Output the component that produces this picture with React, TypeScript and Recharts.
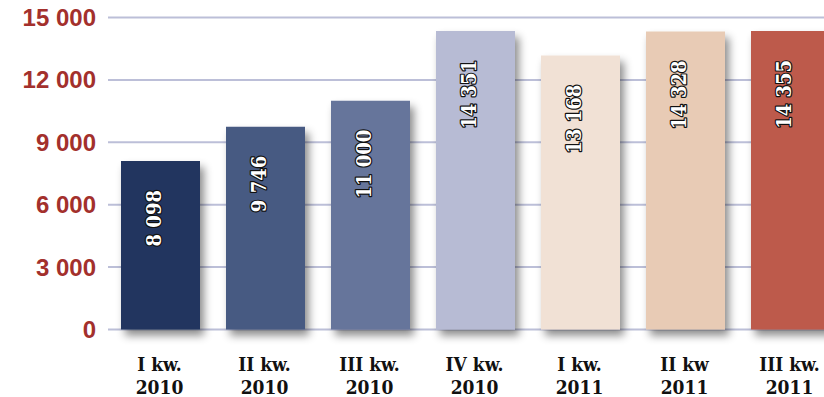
import { Bar, BarChart, CartesianGrid, Cell, LabelList, XAxis, YAxis } from "recharts";

const quarters = ["I kw.", "II kw.", "III kw.", "IV kw.", "I kw.", "II kw", "III kw."];
const years = ["2010", "2010", "2010", "2010", "2011", "2011", "2011"];
const values = [8098, 9746, 11000, 14351, 13168, 14328, 14355];
const barColors = ["#20365f", "#475a82", "#66759b", "#b7bbd4", "#f1e1d5", "#e8cbb5", "#bd5a4b"];
const yTicks = [0, 3000, 6000, 9000, 12000, 15000];

const data = values.map((value, i) => ({
  key: i,
  quarter: quarters[i],
  year: years[i],
  value,
}));

const fmt = (n: number) => String(n).replace(/\B(?=(\d{3})+(?!\d))/g, " ");

// bold serif used for the quarter names and bar values
const slab = {
  fontFamily: "'DejaVu Serif', 'Liberation Serif', serif",
  fontStretch: "condensed",
  fontWeight: "bold",
} as const;

function QuarterTick(props: any) {
  const { x, y, payload } = props;
  const row = data[payload.value];
  return (
    <text x={x - 1} y={y} textAnchor="middle" fontSize={19} fill="#111" style={slab}>
      <tspan x={x - 1} dy={39}>
        {row.quarter}
      </tspan>
      <tspan x={x - 1} dy={23.5}>
        {row.year}
      </tspan>
    </text>
  );
}

function ValueLabel(props: any) {
  const { x, y, width, value } = props;
  const cx = Number(x) + Number(width) / 2 + 1;
  const cy = Number(y) + 29;
  return (
    <text
      x={cx}
      y={cy}
      transform={`rotate(-90 ${cx} ${cy})`}
      textAnchor="end"
      fontSize={20}
      fill="#fff"
      stroke="#111"
      strokeWidth={2.4}
      strokeLinejoin="round"
      style={{ ...slab, paintOrder: "stroke" }}
    >
      {fmt(value)}
    </text>
  );
}

export default function App() {
  return (
    <div
      style={{
        position: "fixed",
        left: 0,
        top: 0,
        width: 824,
        height: 397,
        overflow: "hidden",
        background: "#fff",
      }}
    >
      <BarChart
        width={843}
        height={397}
        data={data}
        margin={{ top: 17.5, right: 0, bottom: 0, left: 0 }}
        barCategoryGap={13}
      >
        <defs>
          <filter id="barShadow" x="-20%" y="-20%" width="150%" height="150%">
            <feDropShadow dx={4} dy={6} stdDeviation={4} floodColor="#000" floodOpacity={0.45} />
          </filter>
        </defs>
        <CartesianGrid vertical={false} stroke="#bcbfd8" strokeWidth={2} />
        <XAxis
          dataKey="key"
          axisLine={false}
          tickLine={false}
          tickSize={0}
          interval={0}
          height={67.5}
          tick={<QuarterTick />}
        />
        <YAxis
          domain={[0, 15000]}
          ticks={yTicks}
          width={108}
          axisLine={false}
          tickLine={false}
          tickSize={0}
          tickMargin={12}
          tickFormatter={fmt}
          tick={{
            fill: "#a3302c",
            fontSize: 24,
            fontWeight: "bold",
            fontFamily: "'Liberation Sans', Arial, sans-serif",
          }}
        />
        <Bar dataKey="value" isAnimationActive={false} filter="url(#barShadow)">
          {data.map((d, i) => (
            <Cell key={d.key} fill={barColors[i]} />
          ))}
          <LabelList dataKey="value" content={<ValueLabel />} />
        </Bar>
      </BarChart>
    </div>
  );
}
